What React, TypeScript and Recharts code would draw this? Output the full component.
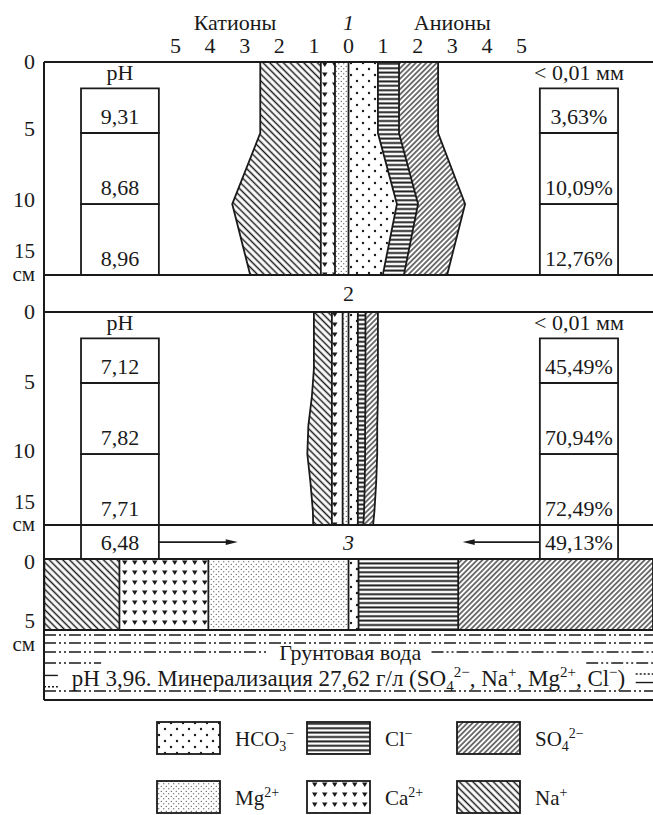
import React from "react";
import {
  ComposedChart,
  Area,
  XAxis,
  YAxis,
  ReferenceLine,
  ReferenceArea,
  ReferenceDot,
  Label,
} from "recharts";

const FONT = "Liberation Serif, Times New Roman, serif";
const INK = "#1a1a1a";
const W = 653;
const X_MAX = 8.8;

// horizontal scale, mg-eq
const axisTicks = [-5, -4, -3, -2, -1, 0, 1, 2, 3, 4, 5];

// profile 1 (cm / mg-eq)
const depth1 = [0, 5, 10, 15];
const na1 = [1.75, 1.75, 2.56, 2.04];
const ca1 = [0.41, 0.41, 0.41, 0.41];
const mg1 = [0.39, 0.39, 0.39, 0.39];
const hco1 = [0.85, 0.85, 1.4, 0.99];
const cl1 = [0.61, 0.61, 0.61, 0.61];
const so1 = [1.13, 1.13, 1.36, 1.25];
const ph1 = ["9,31", "8,68", "8,96"];
const clay1 = ["3,63%", "10,09%", "12,76%"];
const cells1 = [[1.85, 5], [5, 10], [10, 15]];

// profile 2
const depth2 = [0, 4, 6, 8, 10, 12, 14, 15];
const na2 = [0.52, 0.52, 0.58, 0.68, 0.71, 0.62, 0.55, 0.54];
const ca2 = [0.31, 0.31, 0.31, 0.31, 0.31, 0.31, 0.31, 0.31];
const mg2 = [0.17, 0.17, 0.17, 0.17, 0.17, 0.17, 0.17, 0.17];
const hco2 = [0.27, 0.27, 0.27, 0.27, 0.27, 0.27, 0.27, 0.27];
const cl2 = [0.22, 0.22, 0.22, 0.21, 0.21, 0.2, 0.18, 0.16];
const so2 = [0.36, 0.36, 0.36, 0.35, 0.35, 0.33, 0.3, 0.28];
const ph2 = ["7,12", "7,82", "7,71", "6,48"];
const clay2 = ["45,49%", "70,94%", "72,49%", "49,13%"];
const cells2 = [[1.85, 5], [5, 10], [10, 15], [15, 17.39]];

// profile 3
const depth3 = [0, 5];
const na3 = [2.17, 2.17];
const ca3 = [2.57, 2.57];
const mg3 = [4.05, 4.05];
const hco3 = [0.29, 0.29];
const cl3 = [2.88, 2.88];
const so3 = [5.63, 5.63];

// groundwater hatch levels (cm below profile 3 top)
const waterFull = [5.35, 5.92, 9.3];
const waterLabelLevel = 6.55;
const waterShort = 7.32;

const IONS = [
  { key: "HCO3", base: "HCO", sub: "3", sup: "−" },
  { key: "Cl", base: "Cl", sup: "−" },
  { key: "SO4", base: "SO", sub: "4", sup: "2−" },
  { key: "Mg", base: "Mg", sup: "2+" },
  { key: "Ca", base: "Ca", sup: "2+" },
  { key: "Na", base: "Na", sup: "+" },
];

const FILLS: Record<string, string> = {
  HCO3: "url(#p-hco3)",
  Cl: "url(#p-cl)",
  SO4: "url(#p-so4)",
  Mg: "url(#p-mg)",
  Ca: "url(#p-ca)",
  Na: "url(#p-na)",
};

const makeRows = (depth: number[], na: number[], ca: number[], mg: number[], hco: number[], cl: number[], so: number[]) =>
  depth.map((d, i) => ({
    depth: d,
    Mg: -mg[i],
    Ca: -ca[i],
    Na: -na[i],
    HCO3: hco[i],
    Cl: cl[i],
    SO4: so[i],
  }));

const rows1 = makeRows(depth1, na1, ca1, mg1, hco1, cl1, so1);
const rows2 = makeRows(depth2, na2, ca2, mg2, hco2, cl2, so2);
const rows3 = makeRows(depth3, na3, ca3, mg3, hco3, cl3, so3);

const txt = { fontFamily: FONT, fontSize: 22, fill: INK };

function Patterns() {
  return (
    <svg width={0} height={0} style={{ position: "absolute" }}>
      <defs>
        <pattern id="p-na" width="4.8" height="4.8" patternUnits="userSpaceOnUse" patternTransform="rotate(-45)">
          <line x1="2.4" y1="0" x2="2.4" y2="4.8" stroke={INK} strokeWidth="1.5" />
        </pattern>
        <pattern id="p-so4" width="3.7" height="3.7" patternUnits="userSpaceOnUse" patternTransform="rotate(45)">
          <line x1="1.85" y1="0" x2="1.85" y2="3.7" stroke={INK} strokeWidth="1.2" />
        </pattern>
        <pattern id="p-cl" width="4" height="4.4" patternUnits="userSpaceOnUse">
          <line x1="0" y1="2.2" x2="4" y2="2.2" stroke={INK} strokeWidth="1.9" />
        </pattern>
        <pattern id="p-hco3" width="12" height="12" patternUnits="userSpaceOnUse">
          <circle cx="3" cy="3" r="1.2" fill={INK} />
          <circle cx="9" cy="9" r="1.2" fill={INK} />
        </pattern>
        <pattern id="p-mg" width="5" height="5" patternUnits="userSpaceOnUse">
          <circle cx="1.25" cy="1.25" r="0.6" fill={INK} />
          <circle cx="3.75" cy="3.75" r="0.6" fill={INK} />
        </pattern>
        <pattern id="p-ca" width="10" height="10" patternUnits="userSpaceOnUse">
          <polygon points="2,2.5 7.5,2.5 4.75,7" fill={INK} />
        </pattern>
      </defs>
    </svg>
  );
}

// dys: baseline shift of each tick label; unit: shift of the "см" line under the last tick
const depthTick = (dys: number[], unitDy: number) => (props: any) => {
  const { x, y, payload, index } = props;
  const last = index === dys.length - 1;
  return (
    <g>
      <text x={x} y={y + dys[index]} textAnchor="end" {...txt} fontSize={last ? 21 : 22}>
        {payload.value}
      </text>
      {last && (
        <text x={x} y={y + unitDy} textAnchor="end" {...txt} fontSize={21}>
          см
        </text>
      )}
    </g>
  );
};

const arrowShape = (p: any) => {
  const { x1, y1, x2, y2 } = p;
  const dir = Math.sign(x2 - x1);
  return (
    <g>
      <line x1={x1} y1={y1} x2={x2 - dir * 8} y2={y2} stroke={INK} strokeWidth={1.6} />
      <polygon points={`${x2},${y2} ${x2 - dir * 12},${y2 - 2.8} ${x2 - dir * 12},${y2 + 2.8}`} fill={INK} />
    </g>
  );
};

function series() {
  const cat = ["Mg", "Ca", "Na"].map((k) => (
    <Area
      key={k}
      dataKey={k}
      stackId="cat"
      type="linear"
      stroke={INK}
      strokeWidth={1.8}
      fill={FILLS[k]}
      fillOpacity={1}
      dot={false}
      activeDot={false}
      isAnimationActive={false}
    />
  ));
  const an = ["HCO3", "Cl", "SO4"].map((k) => (
    <Area
      key={k}
      dataKey={k}
      stackId="an"
      type="linear"
      stroke={INK}
      strokeWidth={1.8}
      fill={FILLS[k]}
      fillOpacity={1}
      dot={false}
      activeDot={false}
      isAnimationActive={false}
    />
  ));
  return [...cat, ...an];
}

function cellBoxes(bounds: number[][], values: string[], x1: number, x2: number, header: string) {
  return bounds.map(([y1, y2], i) => (
    <ReferenceArea
      key={header + i}
      x1={x1}
      x2={x2}
      y1={y1}
      y2={y2}
      fill="none"
      stroke={INK}
      strokeWidth={1.8}
      ifOverflow="visible"
    >
      <Label value={values[i]} position="insideBottom" offset={9} {...txt} />
      {i === 0 && <Label value={header} position="top" offset={8} {...txt} />}
    </ReferenceArea>
  ));
}

const frameLine = { stroke: INK, strokeWidth: 2 };

function Profile1() {
  return (
    <ComposedChart width={W} height={313} layout="vertical" data={rows1} margin={{ top: 0, right: 0, bottom: 1, left: 0 }}>
      <XAxis
        type="number"
        orientation="top"
        domain={[-X_MAX, X_MAX]}
        allowDataOverflow
        ticks={axisTicks}
        interval={0}
        tickFormatter={(v: number) => String(Math.abs(v))}
        height={62}
        tickLine={false}
        tickSize={0}
        tickMargin={9}
        axisLine={frameLine}
        tick={txt}
      />
      <YAxis
        type="number"
        dataKey="depth"
        domain={[0, 17.6]}
        allowDataOverflow
        ticks={[0, 5, 10, 15]}
        interval={0}
        width={44}
        axisLine={frameLine}
        tickLine={false}
        tickSize={0}
        tickMargin={9}
        tick={depthTick([7, 3, 3, -17], 6)}
      />
      {series()}
      <ReferenceLine segment={[{ x: 0, y: 0 }, { x: 0, y: 15 }]} stroke={INK} strokeWidth={1.8} />
      <ReferenceLine y={15} {...frameLine} />
      {cellBoxes(cells1, ph1, -7.73, -5.48, "pH")}
      {cellBoxes(cells1, clay1, 5.53, 7.79, "< 0,01 мм")}
      <ReferenceDot x={-3.28} y={-2.82} r={0} fill="none" stroke="none" ifOverflow="visible" label={{ value: "Катионы", position: "center", ...txt }} />
      <ReferenceDot x={0} y={-2.82} r={0} fill="none" stroke="none" ifOverflow="visible" label={{ value: "1", position: "center", fontStyle: "italic", ...txt }} />
      <ReferenceDot x={3.0} y={-2.82} r={0} fill="none" stroke="none" ifOverflow="visible" label={{ value: "Анионы", position: "center", ...txt }} />
      <ReferenceDot x={0} y={16.27} r={0} fill="none" stroke="none" ifOverflow="visible" label={{ value: "2", position: "center", ...txt }} />
    </ComposedChart>
  );
}

function Profile2() {
  return (
    <ComposedChart width={W} height={260} layout="vertical" data={rows2} margin={{ top: 12, right: 0, bottom: 1, left: 0 }}>
      <XAxis type="number" domain={[-X_MAX, X_MAX]} allowDataOverflow hide />
      <YAxis
        type="number"
        dataKey="depth"
        domain={[0, 17.39]}
        allowDataOverflow
        ticks={[0, 5, 10, 15]}
        interval={0}
        width={44}
        axisLine={frameLine}
        tickLine={false}
        tickSize={0}
        tickMargin={9}
        tick={depthTick([7, 6, 4, -16], 6)}
      />
      {series()}
      <ReferenceLine segment={[{ x: 0, y: 0 }, { x: 0, y: 15 }]} stroke={INK} strokeWidth={1.8} />
      <ReferenceLine y={0} {...frameLine} />
      <ReferenceLine y={15} {...frameLine} />
      {cellBoxes(cells2, ph2, -7.73, -5.48, "pH")}
      {cellBoxes(cells2, clay2, 5.53, 7.79, "< 0,01 мм")}
      <ReferenceLine segment={[{ x: -5.48, y: 16.2 }, { x: -3.2, y: 16.2 }]} shape={arrowShape} />
      <ReferenceLine segment={[{ x: 5.53, y: 16.2 }, { x: 3.3, y: 16.2 }]} shape={arrowShape} />
      <ReferenceDot x={0} y={16.2} r={0} fill="none" stroke="none" ifOverflow="visible" label={{ value: "3", position: "center", fontStyle: "italic", ...txt }} />
    </ComposedChart>
  );
}

const WaterNote = (props: any) => {
  const vb = props.viewBox;
  const cx = vb.x + vb.width / 2;
  const y = vb.y + vb.height;
  const s = { fontSize: 15 };
  return (
    <text x={cx} y={y} textAnchor="middle" {...txt} fontSize={23}>
      pH 3,96. Минерализация 27,62 г/л (SO
      <tspan {...s} dy={5}>4</tspan>
      <tspan {...s} dy={-14}>2−</tspan>
      <tspan dy={9}>, Na</tspan>
      <tspan {...s} dy={-9}>+</tspan>
      <tspan dy={9}>, Mg</tspan>
      <tspan {...s} dy={-9}>2+</tspan>
      <tspan dy={9}>, Cl</tspan>
      <tspan {...s} dy={-9}>−</tspan>
      <tspan dy={9}>)</tspan>
    </text>
  );
};

const dashDot = "12 3 2 3 2 3";

function Profile3() {
  return (
    <ComposedChart width={W} height={154} layout="vertical" data={rows3} margin={{ top: 11, right: 0, bottom: 2, left: 0 }}>
      <XAxis type="number" domain={[-X_MAX, X_MAX]} allowDataOverflow hide />
      <YAxis
        type="number"
        dataKey="depth"
        domain={[0, 9.93]}
        allowDataOverflow
        ticks={[0, 5]}
        interval={0}
        width={44}
        axisLine={frameLine}
        tickLine={false}
        tickSize={0}
        tickMargin={9}
        tick={depthTick([10, -2], 21)}
      />
      {series()}
      <ReferenceLine segment={[{ x: 0, y: 0 }, { x: 0, y: 5 }]} stroke={INK} strokeWidth={1.8} />
      <ReferenceLine y={0} {...frameLine} />
      <ReferenceLine y={5} {...frameLine} />
      <ReferenceLine y={9.93} {...frameLine} />
      {waterFull.map((lv) => (
        <ReferenceLine key={lv} y={lv} stroke={INK} strokeWidth={1.4} strokeDasharray={dashDot} />
      ))}
      <ReferenceLine segment={[{ x: -X_MAX, y: waterLabelLevel }, { x: -2.3, y: waterLabelLevel }]} stroke={INK} strokeWidth={1.4} strokeDasharray={dashDot} />
      <ReferenceLine segment={[{ x: 2.4, y: waterLabelLevel }, { x: X_MAX, y: waterLabelLevel }]} stroke={INK} strokeWidth={1.4} strokeDasharray={dashDot} />
      <ReferenceLine segment={[{ x: -X_MAX, y: waterShort }, { x: -7.15, y: waterShort }]} stroke={INK} strokeWidth={1.4} strokeDasharray={dashDot} />
      <ReferenceLine segment={[{ x: 6.87, y: waterShort }, { x: X_MAX, y: waterShort }]} stroke={INK} strokeWidth={1.4} strokeDasharray={dashDot} />
      <ReferenceLine segment={[{ x: -X_MAX, y: 8.2 }, { x: -8.4, y: 8.2 }]} stroke={INK} strokeWidth={1.4} />
      <ReferenceLine segment={[{ x: -X_MAX, y: 9.0 }, { x: -8.4, y: 9.0 }]} stroke={INK} strokeWidth={1.4} strokeDasharray="2 2" />
      <ReferenceLine segment={[{ x: 8.3, y: 8.1 }, { x: X_MAX, y: 8.1 }]} stroke={INK} strokeWidth={1.4} strokeDasharray="2 2" />
      <ReferenceLine segment={[{ x: 8.3, y: 8.7 }, { x: X_MAX, y: 8.7 }]} stroke={INK} strokeWidth={1.4} />
      <ReferenceArea x1={-2.25} x2={2.35} y1={6.05} y2={7.05} fill="none" stroke="none" ifOverflow="visible">
        <Label value="Грунтовая вода" position="center" {...txt} />
      </ReferenceArea>
      <ReferenceArea x1={-X_MAX} x2={X_MAX} y1={7.95} y2={8.95} fill="none" stroke="none" ifOverflow="visible" label={{ content: WaterNote }} />
    </ComposedChart>
  );
}

function LegendBlock() {
  const colX = [157, 307, 457];
  const rowY = [722, 781];
  return (
    <svg width={W} height={815} style={{ position: "absolute", left: 0, top: 0, pointerEvents: "none" }}>
      {IONS.map((ion, i) => {
        const x = colX[i % 3];
        const y = rowY[Math.floor(i / 3)];
        const ty = y + 24;
        return (
          <g key={ion.key}>
            <rect x={x} y={y} width={63} height={32} fill={FILLS[ion.key]} stroke={INK} strokeWidth={1.8} />
            <text x={x + 78} y={ty} fontFamily={FONT} fontSize={21} fill={INK}>
              {ion.base}
              {ion.sub ? (
                <>
                  <tspan fontSize={14} dy={5}>{ion.sub}</tspan>
                  <tspan fontSize={14} dy={-13}>{ion.sup}</tspan>
                </>
              ) : (
                <tspan fontSize={14} dy={-8}>{ion.sup}</tspan>
              )}
            </text>
          </g>
        );
      })}
    </svg>
  );
}

export default function App() {
  return (
    <div style={{ position: "absolute", left: 0, top: 0, width: W, height: 815, background: "#fff", overflow: "hidden", fontFamily: FONT }}>
      <Patterns />
      <div style={{ position: "absolute", left: 0, top: 0 }}>
        <Profile1 />
      </div>
      <div style={{ position: "absolute", left: 0, top: 300 }}>
        <Profile2 />
      </div>
      <div style={{ position: "absolute", left: 0, top: 548 }}>
        <Profile3 />
      </div>
      <LegendBlock />
    </div>
  );
}
